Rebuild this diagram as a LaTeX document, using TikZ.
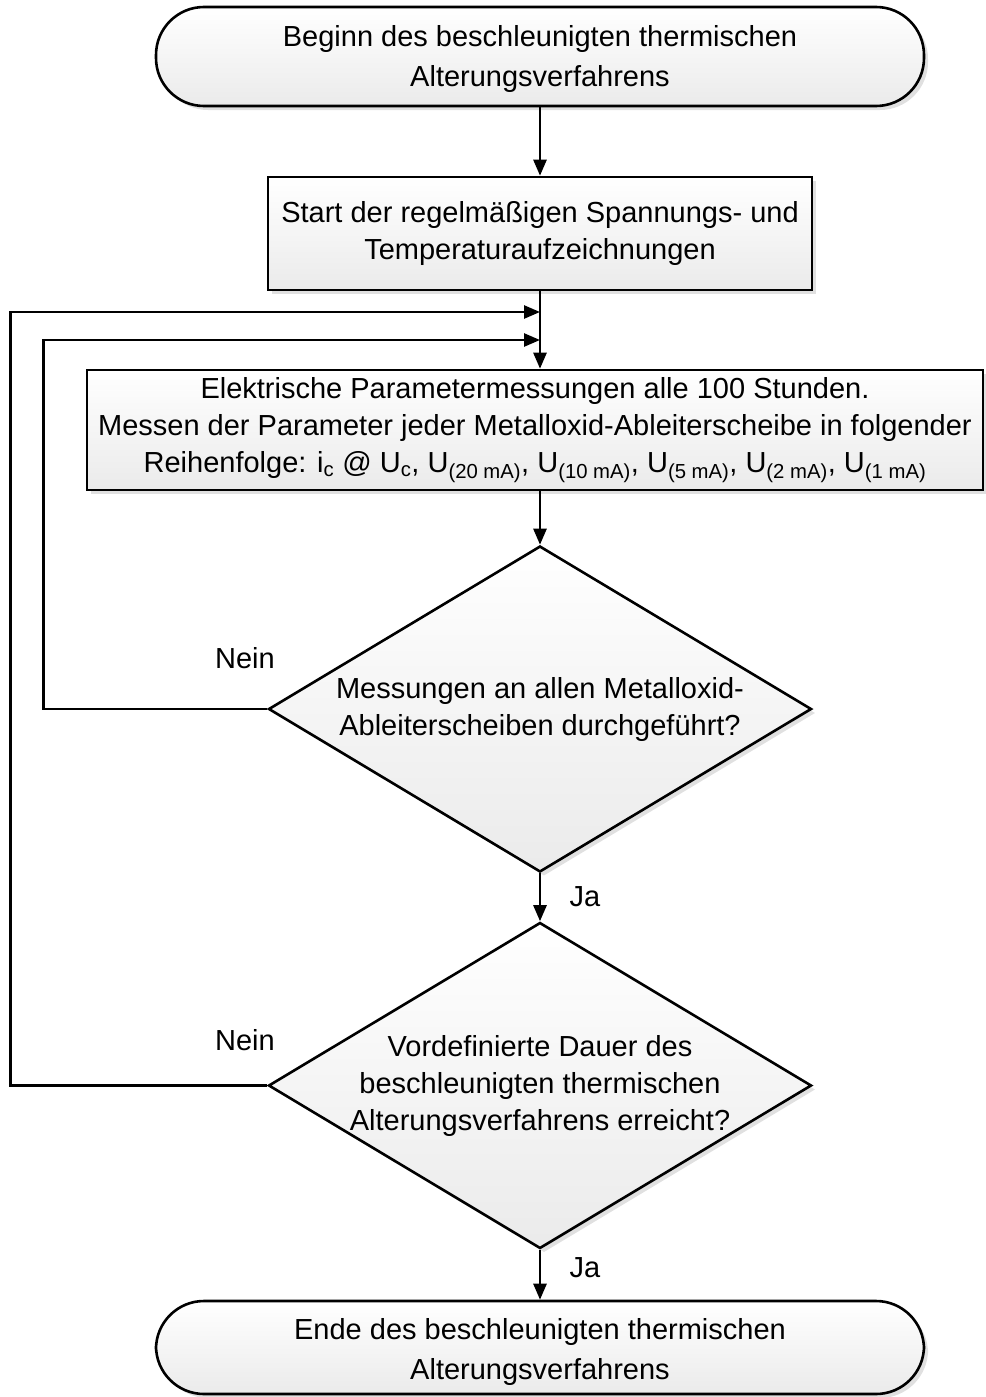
\documentclass[tikz,border=0pt]{standalone}
\usepackage{fontspec}
\setmainfont{Liberation Sans}
\usetikzlibrary{shapes.geometric,arrows.meta,shadows}
\begin{document}
\begin{tikzpicture}[x=1pt,y=-1pt,
  every node/.style={font=\fontsize{29}{37}\selectfont, align=center, text=black},
  box/.style={draw=black, line width=2.6pt, top color=white, bottom color=black!8,
    general shadow={fill=black!12, shadow xshift=4pt, shadow yshift=-4pt}},
  term/.style={box, rectangle, rounded corners=48pt, minimum width=768pt, minimum height=99pt, inner sep=0pt},
  termtext/.style={font=\fontsize{29}{40}\selectfont},
  proc/.style={box, rectangle, inner sep=0pt},
  dec/.style={box, diamond, inner sep=0pt, minimum width=543pt, minimum height=326pt},
  conn/.style={line width=2.6pt, -{Triangle[length=16pt,width=13pt]}},
  lbl/.style={font=\fontsize{29}{37}\selectfont}
]
\useasboundingbox (0,0) rectangle (985,1397);

\node[term] (start) at (540,56.5) {};
\node[termtext] (st) at ([yshift=-3pt]start.center) {Beginn des beschleunigten thermischen\\Alterungsverfahrens};
\node[proc, minimum width=544pt, minimum height=113pt] (p1) at (540,233.5)
  {Start der regelmäßigen Spannungs- und\\Temperaturaufzeichnungen};
\node[proc, minimum width=896pt, minimum height=120pt] (p2) at (535,430)
  {Elektrische Parametermessungen alle 100 Stunden.\\
   Messen der Parameter jeder Metalloxid-Ableiterscheibe in folgender\\
   Reihenfolge: i\textsubscript{c} @ U\textsubscript{c}, U\textsubscript{(20 mA)}, U\textsubscript{(10 mA)}, U\textsubscript{(5 mA)}, U\textsubscript{(2 mA)}, U\textsubscript{(1 mA)}};
\node[dec] (d1) at (540,709) {};
\node (t1) at (d1) {Messungen an allen Metalloxid-\\Ableiterscheiben durchgeführt?};
\node[dec] (d2) at (540,1085.5) {};
\node (t2) at (d2) {Vordefinierte Dauer des\\beschleunigten thermischen\\Alterungsverfahrens erreicht?};
\node[term, minimum height=93pt] (end) at (540,1347.5) {};
\node[termtext] (et) at ([yshift=-4pt]end.center) {Ende des beschleunigten thermischen\\Alterungsverfahrens};

\coordinate (m1) at (540,312);
\coordinate (m2) at (540,340);

\draw[conn] (start) -- (p1);
\draw[conn] (p1.south) -- (p1.south |- p2.north);
\draw[conn] (d1.north |- p2.south) -- (d1.north);
\draw[conn] (d1.south) -- (d2.north);
\draw[conn] (d2.south) -- (end.north);
\draw[conn] (d1.west) -- ++(-224,0) |- (m2);
\draw[conn] (d2.west) -- ++(-256.5,0) |- (m1);

\node[lbl] (n1) at (245,658) {Nein};
\node[lbl] (j1) at (585,897) {Ja};
\node[lbl] (n2) at (245,1040) {Nein};
\node[lbl] (j2) at (585,1268) {Ja};
\end{tikzpicture}
\end{document}
